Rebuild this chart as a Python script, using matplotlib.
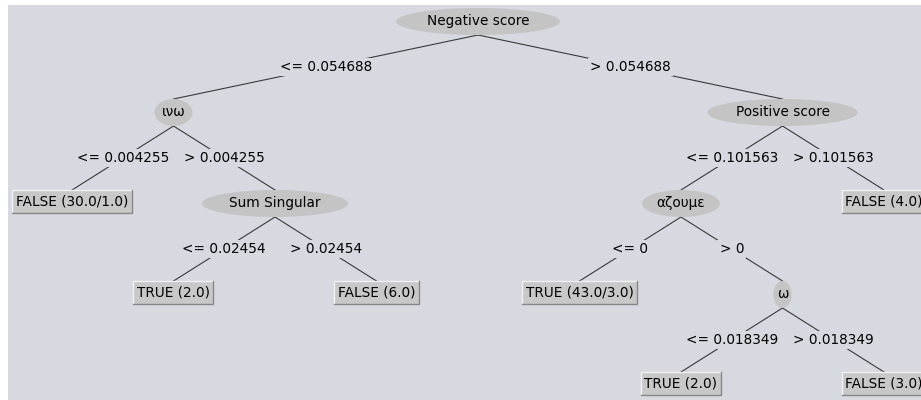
import matplotlib.pyplot as plt
from matplotlib.patches import Ellipse

# decision tree (Weka style): one entry per node
names = ["Negative score", "ινω", "FALSE (30.0/1.0)", "Sum Singular", "TRUE (2.0)",
         "FALSE (6.0)", "Positive score", "αζουμε", "TRUE (43.0/3.0)", "ω",
         "TRUE (2.0)", "FALSE (3.0)", "FALSE (4.0)"]
is_leaf = [False, False, True, False, True, True, False, False, True, False, True, True, True]
parents = [None, 0, 1, 1, 3, 3, 0, 6, 7, 7, 9, 9, 6]
edge_labels = [None, "<= 0.054688", "<= 0.004255", "> 0.004255", "<= 0.02454", "> 0.02454",
               "> 0.054688", "<= 0.101563", "<= 0", "> 0", "<= 0.018349", "> 0.018349",
               "> 0.101563"]
# grid position of each node (column, depth)
columns = [4, 1, 0, 2, 1, 3, 7, 6, 5, 7, 6, 8, 8]
levels = [0, 1, 2, 2, 3, 3, 1, 2, 3, 3, 4, 4, 2]

bg = '#d6d9e0'
node_fill = '#c4c4c4'
leaf_fill = '#c8c8c8'
fs = 9.8

fig = plt.figure(figsize=(9.21, 4.0), dpi=100, facecolor='white')
ax = fig.add_axes([8 / 921, 0, 913 / 921, 395 / 400])
ax.set_xlim(8, 921)
ax.set_ylim(400, 5)
ax.axis('off')
ax.add_patch(plt.Rectangle((8, 5), 913, 395, fc=bg, ec='none', zorder=0))

x0, dx = 72, 101.5
top0, dy = 8, 91
ell_h = 27
box_h = 23


def node_x(i):
    return x0 + dx * columns[i]


def node_top(i):
    return top0 + dy * levels[i]


def node_bottom(i):
    return node_top(i) + (box_h if is_leaf[i] else ell_h)


# edges and their labels
for i, p in enumerate(parents):
    if p is None:
        continue
    xa, ya = node_x(p), node_bottom(p)
    xb, yb = node_x(i), node_top(i)
    ax.plot([xa, xb], [ya, yb], color='#3a3a3a', lw=0.8, zorder=1)
    ax.text((xa + xb) / 2, (ya + yb) / 2, edge_labels[i], fontsize=fs, ha='center',
            va='center', zorder=3,
            bbox=dict(boxstyle='square,pad=0.15', fc=bg, ec='none'))

fig.canvas.draw()
renderer = fig.canvas.get_renderer()
inv = ax.transData.inverted()

# nodes
for i, name in enumerate(names):
    if is_leaf[i]:
        cy = node_top(i) + box_h / 2
        t = ax.text(node_x(i), cy, name, fontsize=fs, ha='center', va='center', zorder=4)
        ext = t.get_window_extent(renderer)
        (l, b), (r, tp) = inv.transform([[ext.x0, ext.y0], [ext.x1, ext.y1]])
        l, r = l - 3.5, r + 3.5
        y1, y2 = node_top(i), node_top(i) + box_h
        ax.add_patch(plt.Rectangle((l, y1), r - l, box_h, fc=leaf_fill, ec='none', zorder=2))
        # raised border: light top/left, dark bottom/right
        ax.plot([l, l, r], [y2, y1, y1], color='#f2f2f2', lw=1, zorder=3,
                solid_joinstyle='miter')
        ax.plot([l, r, r], [y2, y2, y1], color='#888888', lw=1, zorder=3,
                solid_joinstyle='miter')
    else:
        cy = node_top(i) + ell_h / 2
        t = ax.text(node_x(i), cy, name, fontsize=fs, ha='center', va='center', zorder=4)
        w = t.get_window_extent(renderer).width
        ax.add_patch(Ellipse((node_x(i), cy), w * 1.6, ell_h, fc=node_fill, ec='none',
                             zorder=2))

fig.savefig('out.png', dpi=100, facecolor='white')
